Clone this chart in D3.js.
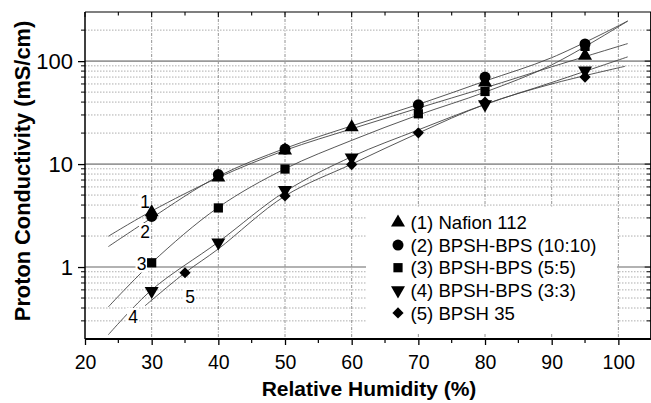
<!DOCTYPE html>
<html><head><meta charset="utf-8">
<script src="https://cdn.jsdelivr.net/npm/d3@7"></script>
<style>body{margin:0;background:#fff}svg{display:block;font-family:"Liberation Sans",Arial,sans-serif}</style>
</head><body><svg id="c" width="651" height="403"></svg>
<script>
// ---- data ----
const seriesNames = ["(1) Nafion 112","(2) BPSH-BPS (10:10)","(3) BPSH-BPS (5:5)","(4) BPSH-BPS (3:3)","(5) BPSH 35"];
const nafionX = [30,40,50,60,80,95];      const nafionY = [3.4,7.4,13.6,22.8,62,113];
const bps1010X = [30,40,50,70,80,95];     const bps1010Y = [3.1,7.9,14.0,37.6,70,147];
const bps55X = [30,40,50,70,80,95];       const bps55Y = [1.1,3.75,8.95,30.8,50.7,139];
const bps33X = [30,40,50,60,80,95];       const bps33Y = [0.585,1.73,5.6,11.6,38,81];
const bpsh35X = [35,50,60,70,80,95];      const bpsh35Y = [0.88,4.9,9.9,20.1,40,70];
// fitted curves
const fit1X = [23.5,30,40,50,60,70,80,90,101.4]; const fit1Y = [1.99,3.5,7.4,13.6,22,35,55,88,148];
const fit2X = [23.5,30,40,50,60,70,80,90,101.4]; const fit2Y = [1.58,3.0,7.6,14.2,23.5,38,64,108,245];
const fit3X = [23.5,30,40,50,60,70,80,90,101.4]; const fit3Y = [0.41,1.1,3.8,9.0,17,30,50,92,245];
const fit4X = [23.5,30,40,50,60,70,80,90,101.4]; const fit4Y = [0.22,0.6,1.75,5.4,11.8,21.5,38,62,110];
const fit5X = [29,35,40,50,60,70,80,90,101.0];   const fit5Y = [0.42,0.88,1.5,4.9,10,20,38,60,89];
const curveLabels = ["1","2","3","4","5"];
const xTicks = [20,30,40,50,60,70,80,90,100];
const yTicks = [1,10,100];
const xLabel = "Relative Humidity (%)";
const yLabel = "Proton Conductivity (mS/cm)";

const svg = d3.select("#c");
const L=85, T=12, B=339, R=651.7;
const x = d3.scaleLinear([20,105],[L,R]);
const y = d3.scaleLog([0.2,300],[B,T]);

// minor horizontal gridlines
const minorY = [];
[0.1,1,10,100].forEach(d=>{for(let k=2;k<=9;k++){const v=d*k; if(v>0.2&&v<300) minorY.push(v);}});
svg.append("g").selectAll("line").data(minorY).join("line")
  .attr("x1",L).attr("x2",R).attr("y1",d=>y(d)).attr("y2",d=>y(d))
  .attr("stroke","#999").attr("stroke-width",0.8).attr("stroke-dasharray","1.5,1.5");
// vertical gridlines
svg.append("g").selectAll("line").data(xTicks.slice(1)).join("line")
  .attr("x1",d=>x(d)).attr("x2",d=>x(d)).attr("y1",T).attr("y2",B)
  .attr("stroke","#777").attr("stroke-width",0.8).attr("stroke-dasharray","3,1.5,1,1.5");
// major horizontal
svg.append("g").selectAll("line").data(yTicks).join("line")
  .attr("x1",L).attr("x2",R).attr("y1",d=>y(d)).attr("y2",d=>y(d))
  .attr("stroke","#999").attr("stroke-width",1.6);

// fitted curves
const fits = [[fit1X,fit1Y],[fit2X,fit2Y],[fit3X,fit3Y],[fit4X,fit4Y],[fit5X,fit5Y]];
const line = d3.line().x(d=>x(d[0])).y(d=>y(d[1])).curve(d3.curveCatmullRom);
fits.forEach(([fx,fy])=>{
  svg.append("path").attr("d",line(fx.map((v,i)=>[v,fy[i]])))
    .attr("fill","none").attr("stroke","#444").attr("stroke-width",0.9);
});

// legend background
svg.append("rect").attr("x",366).attr("y",208).attr("width",251).attr("height",126).attr("fill","#fff");

// curve labels with white background
const labelPos = [[145,202],[145,232],[141.5,263.5],[133,317],[190,297]];
labelPos.forEach((p,i)=>{
  svg.append("rect").attr("x",p[0]-6).attr("y",p[1]-9).attr("width",12).attr("height",18).attr("fill","#fff");
  svg.append("text").attr("x",p[0]).attr("y",p[1]+6.3).attr("text-anchor","middle")
    .attr("font-size",17.5).text(curveLabels[i]);
});

// markers
const symTypes = [d3.symbolTriangle,d3.symbolCircle,d3.symbolSquare,"tdown",d3.symbolDiamond2];
function sym(g,type,cx,cy){
  if(type==="tdown"){
    g.append("path").attr("d",d3.symbol(d3.symbolTriangle,85)()).attr("transform",`translate(${cx},${cy}) rotate(180)`).attr("fill","#000");
  } else {
    const size = type===d3.symbolCircle?95:type===d3.symbolSquare?85:type===d3.symbolDiamond2?80:85;
    g.append("path").attr("d",d3.symbol(type,size)()).attr("transform",`translate(${cx},${cy})`).attr("fill","#000");
  }
}
const pts = [[nafionX,nafionY],[bps1010X,bps1010Y],[bps55X,bps55Y],[bps33X,bps33Y],[bpsh35X,bpsh35Y]];
const mg = svg.append("g");
pts.forEach(([px,py],s)=>px.forEach((v,i)=>sym(mg,symTypes[s],x(v),y(py[i]))));

// legend
const lg = svg.append("g");
seriesNames.forEach((n,i)=>{
  const yy = 222.5 + i*22.6;
  sym(lg,symTypes[i],398,yy);
  lg.append("text").attr("x",410.5).attr("y",yy+6.6).attr("font-size",18.6).text(n);
});

// axes
const ax = svg.append("g");
ax.append("line").attr("x1",L).attr("x2",R).attr("y1",B).attr("y2",B).attr("stroke","#000").attr("stroke-width",2);
ax.append("line").attr("x1",L).attr("x2",R).attr("y1",T).attr("y2",T).attr("stroke","#000").attr("stroke-width",1.2);
ax.append("line").attr("x1",L).attr("x2",L).attr("y1",T).attr("y2",B).attr("stroke","#000").attr("stroke-width",1.5);
ax.append("line").attr("x1",R-1).attr("x2",R-1).attr("y1",T).attr("y2",B).attr("stroke","#000").attr("stroke-width",1.2);

const xMinor = d3.range(25,105,10);
// bottom ticks (outward)
svg.append("g").attr("transform",`translate(0,${B})`)
  .call(d3.axisBottom(x).tickValues(xTicks).tickSize(6).tickPadding(3).tickFormat(d3.format("d")))
  .call(g=>{g.select(".domain").remove(); g.selectAll("line").attr("stroke-width",1.3);
            g.selectAll("text").attr("font-size",19.5).attr("dy",null).attr("y",30)
             .attr("font-family","Liberation Sans, Arial").attr("fill","#000");});
svg.append("g").selectAll("line").data(xMinor).join("line")
  .attr("x1",d=>x(d)).attr("x2",d=>x(d)).attr("y1",B).attr("y2",B+4).attr("stroke","#000").attr("stroke-width",1.2);
// top ticks (inward)
svg.append("g").selectAll("line").data(xTicks.concat(xMinor)).join("line")
  .attr("x1",d=>x(d)).attr("x2",d=>x(d)).attr("y1",T).attr("y2",d=>T+(d%10===0?5:3.5)).attr("stroke","#000").attr("stroke-width",1.1);
// left ticks
svg.append("g").attr("transform",`translate(${L},0)`)
  .call(d3.axisLeft(y).tickValues(yTicks).tickSize(7).tickPadding(5).tickFormat(d3.format("d")))
  .call(g=>{g.select(".domain").remove(); g.selectAll("line").attr("stroke-width",1.3);
            g.selectAll("text").attr("font-size",22).attr("font-family","Liberation Sans, Arial").attr("fill","#000");});
svg.append("g").selectAll("line").data(minorY).join("line")
  .attr("x1",L-4).attr("x2",L).attr("y1",d=>y(d)).attr("y2",d=>y(d)).attr("stroke","#000").attr("stroke-width",1);
// right ticks (inward)
svg.append("g").selectAll("line").data(minorY.concat(yTicks)).join("line")
  .attr("x1",d=>R-1-(yTicks.includes(d)?6:4)).attr("x2",R-1).attr("y1",d=>y(d)).attr("y2",d=>y(d)).attr("stroke","#000").attr("stroke-width",1);

// titles
svg.append("text").attr("x",369).attr("y",396).attr("text-anchor","middle")
  .attr("font-size",21).attr("font-weight","bold").text(xLabel);
svg.append("text").attr("transform",`translate(29.5,171) rotate(-90)`).attr("text-anchor","middle")
  .attr("font-size",21.8).attr("font-weight","bold").text(yLabel);
</script></body></html>
